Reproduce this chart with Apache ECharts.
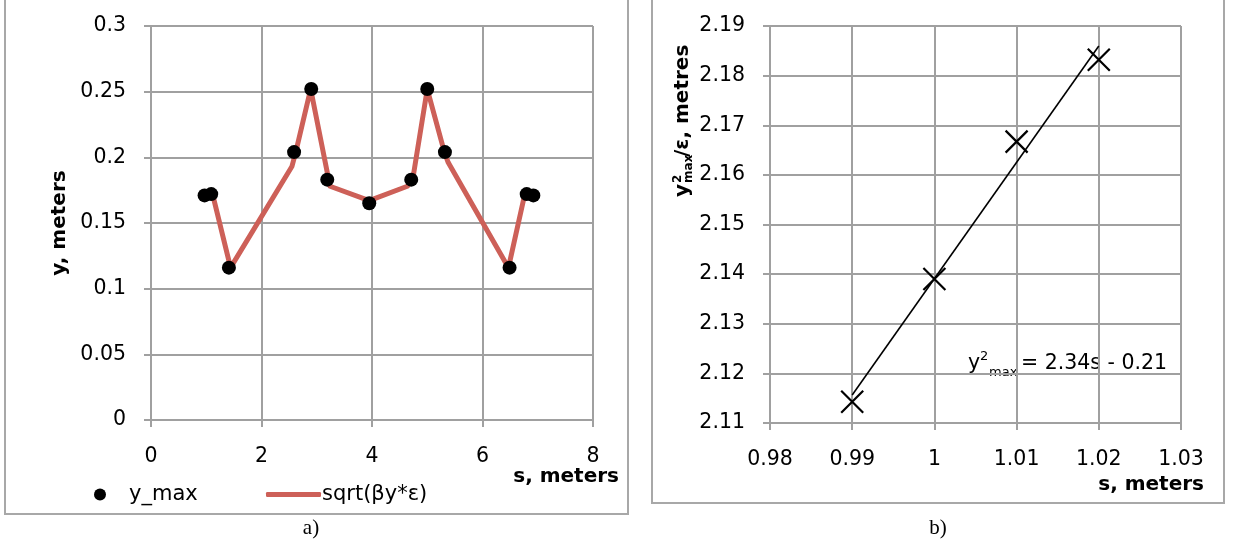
<!DOCTYPE html>
<html>
<head>
<meta charset="utf-8">
<script src="https://cdn.jsdelivr.net/npm/echarts@6/dist/echarts.min.js"></script>
<style>
  html, body { margin: 0; padding: 0; background: #ffffff; }
  #chart { width: 1233px; height: 548px; }
</style>
</head>
<body>
<div id="chart"></div>
<script>
// ---- panel a): measured y_max and the sqrt(βy*ε) envelope ----
const dotS = [0.97, 1.09, 1.41, 2.59, 2.90, 3.19, 3.95, 4.71, 5.00, 5.32, 6.49, 6.80, 6.92];
const dotY = [0.171, 0.172, 0.116, 0.204, 0.252, 0.183, 0.165, 0.183, 0.252, 0.204, 0.116, 0.172, 0.171];

const envS = [1.12, 1.44, 2.55, 2.62, 2.89, 3.24, 3.95, 4.64, 4.74, 5.00, 5.31, 5.38, 6.47, 6.76];
const envY = [0.171, 0.116, 0.193, 0.204, 0.252, 0.178, 0.167, 0.178, 0.184, 0.252, 0.204, 0.196, 0.116, 0.171];

const axisA = { xMin: 0, xMax: 8, xStep: 2, yMin: 0, yMax: 0.3, yStep: 0.05 };

// ---- panel b): y²max/ε against s ----
const ratioS = [0.99, 1.00, 1.01, 1.02];
const ratioY = [2.1143, 2.139, 2.1667, 2.1832];

const axisB = { xMin: 0.98, xMax: 1.03, xStep: 0.01, yMin: 2.11, yMax: 2.19, yStep: 0.01 };

const legendNames = ['y_max', 'sqrt(βy*ε)'];

// least-squares trend line through the panel b) points
function linearFit(xs, ys) {
  const n = xs.length;
  const mx = xs.reduce((a, b) => a + b, 0) / n;
  const my = ys.reduce((a, b) => a + b, 0) / n;
  let sxy = 0, sxx = 0;
  for (let i = 0; i < n; i++) {
    sxy += (xs[i] - mx) * (ys[i] - my);
    sxx += (xs[i] - mx) * (xs[i] - mx);
  }
  const k = sxy / sxx;
  return { k: k, b: my - k * mx };
}
const fit = linearFit(ratioS, ratioY);
const fitEnds = [ratioS[0], ratioS[ratioS.length - 1]];

const FONT = 'DejaVu Sans';
const GRID_GREY = '#a0a0a0';
const ENV_RED = '#cd6058';

function valueAxis(gridIndex, min, max, step, isX, decimals) {
  return {
    type: 'value',
    gridIndex: gridIndex,
    min: min,
    max: max,
    interval: step,
    axisLine: { show: true, onZero: false, lineStyle: { color: GRID_GREY, width: 2 } },
    axisTick: { show: true, inside: false, length: 7, lineStyle: { color: GRID_GREY, width: 2 } },
    splitLine: { show: true, lineStyle: { color: GRID_GREY, width: 2 } },
    axisLabel: {
      color: '#000',
      fontFamily: FONT,
      fontSize: 20.5,
      margin: isX ? 26 : 25,
      formatter: function (v) { return String(parseFloat(v.toFixed(decimals))); }
    }
  };
}

const chart = echarts.init(document.getElementById('chart'), null, { renderer: 'canvas' });

const option = {
  backgroundColor: '#ffffff',
  animation: false,
  grid: [
    { left: 151, top: 26, width: 442, height: 394 },
    { left: 770, top: 26, width: 411, height: 397 }
  ],
  xAxis: [
    valueAxis(0, axisA.xMin, axisA.xMax, axisA.xStep, true, 0),
    valueAxis(1, axisB.xMin, axisB.xMax, axisB.xStep, true, 2)
  ],
  yAxis: [
    valueAxis(0, axisA.yMin, axisA.yMax, axisA.yStep, false, 2),
    valueAxis(1, axisB.yMin, axisB.yMax, axisB.yStep, false, 2)
  ],
  legend: [
    {
      data: [{ name: legendNames[0], icon: 'circle' }],
      left: 89, top: 479,
      itemWidth: 12, itemHeight: 12,
      selectedMode: false,
      textStyle: { fontFamily: FONT, fontSize: 21, color: '#000', padding: [0, 0, 0, 18] }
    },
    {
      data: [{ name: legendNames[1], icon: 'roundRect' }],
      left: 261, top: 479,
      itemWidth: 55, itemHeight: 5,
      selectedMode: false,
      textStyle: { fontFamily: FONT, fontSize: 21, color: '#000', padding: [0, 0, 0, -4] }
    }
  ],
  series: [
    {
      name: legendNames[1],
      type: 'line',
      xAxisIndex: 0, yAxisIndex: 0,
      data: envS.map((s, i) => [s, envY[i]]),
      showSymbol: false,
      symbol: 'none',
      color: ENV_RED,
      lineStyle: { color: ENV_RED, width: 5, join: 'round', cap: 'round' },
      z: 2
    },
    {
      name: legendNames[0],
      type: 'scatter',
      xAxisIndex: 0, yAxisIndex: 0,
      data: dotS.map((s, i) => [s, dotY[i]]),
      symbol: 'circle',
      symbolSize: 14,
      color: '#000',
      itemStyle: { color: '#000', opacity: 1 },
      z: 3
    },
    {
      name: 'trend',
      type: 'line',
      xAxisIndex: 1, yAxisIndex: 1,
      data: fitEnds.map(s => [s, fit.k * s + fit.b]),
      showSymbol: false,
      symbol: 'none',
      lineStyle: { color: '#000', width: 1.6 },
      z: 2
    },
    {
      name: 'ratio',
      type: 'scatter',
      xAxisIndex: 1, yAxisIndex: 1,
      data: ratioS.map((s, i) => [s, ratioY[i]]),
      symbol: 'path://M0,0L10,10M10,0L0,10',
      symbolSize: 22,
      itemStyle: { color: 'transparent', borderColor: '#000', borderWidth: 2.2, opacity: 1 },
      z: 3
    }
  ],
  graphic: [
    // panel frames
    { type: 'rect', shape: { x: 5, y: -4, width: 623, height: 518 },
      style: { fill: 'none', stroke: '#a8a8a8', lineWidth: 2 }, z: 0 },
    { type: 'rect', shape: { x: 652, y: -4, width: 572, height: 507 },
      style: { fill: 'none', stroke: '#a8a8a8', lineWidth: 2 }, z: 0 },

    // panel a) axis titles
    { type: 'text', x: 60, y: 223, rotation: Math.PI / 2,
      style: { text: 'y, meters', font: 'bold 20px "DejaVu Sans"', fill: '#000',
               textAlign: 'center', textVerticalAlign: 'middle' } },
    { type: 'text', x: 619, y: 477,
      style: { text: 's, meters', font: 'bold 20px "DejaVu Sans"', fill: '#000',
               textAlign: 'right', textVerticalAlign: 'middle' } },

    // panel b) axis titles
    { type: 'group', x: 683, y: 197, rotation: Math.PI / 2,
      children: [
        { type: 'text', x: 0, y: 0,
          style: { text: 'y', font: 'bold 20px "DejaVu Sans"', fill: '#000',
                   textAlign: 'left', textVerticalAlign: 'middle' } },
        { type: 'text', x: 14, y: -5,
          style: { text: '2', font: 'bold 12px "DejaVu Sans"', fill: '#000',
                   textAlign: 'left', textVerticalAlign: 'middle' } },
        { type: 'text', x: 14, y: 6,
          style: { text: 'max', font: 'bold 12px "DejaVu Sans"', fill: '#000',
                   textAlign: 'left', textVerticalAlign: 'middle' } },
        { type: 'text', x: 40, y: 0,
          style: { text: '/ε, metres', font: 'bold 20px "DejaVu Sans"', fill: '#000',
                   textAlign: 'left', textVerticalAlign: 'middle' } }
      ] },
    { type: 'text', x: 1204, y: 485,
      style: { text: 's, meters', font: 'bold 20px "DejaVu Sans"', fill: '#000',
               textAlign: 'right', textVerticalAlign: 'middle' } },

    // trend equation
    { type: 'text', x: 968, y: 364,
      style: { text: 'y', font: '20.5px "DejaVu Sans"', fill: '#000',
               textAlign: 'left', textVerticalAlign: 'middle' } },
    { type: 'text', x: 980, y: 357,
      style: { text: '2', font: '13px "DejaVu Sans"', fill: '#000',
               textAlign: 'left', textVerticalAlign: 'middle' } },
    { type: 'text', x: 989, y: 373,
      style: { text: 'max', font: '13px "DejaVu Sans"', fill: '#000',
               textAlign: 'left', textVerticalAlign: 'middle' } },
    { type: 'text', x: 1021, y: 364,
      style: { text: '= 2.34s - 0.21', font: '20.5px "DejaVu Sans"', fill: '#000',
               textAlign: 'left', textVerticalAlign: 'middle' } },

    // panel captions
    { type: 'text', x: 311, y: 528,
      style: { text: 'a)', font: '21px "Liberation Serif"', fill: '#000',
               textAlign: 'center', textVerticalAlign: 'middle' } },
    { type: 'text', x: 938, y: 528,
      style: { text: 'b)', font: '21px "Liberation Serif"', fill: '#000',
               textAlign: 'center', textVerticalAlign: 'middle' } }
  ]
};

chart.setOption(option);
</script>
</body>
</html>
